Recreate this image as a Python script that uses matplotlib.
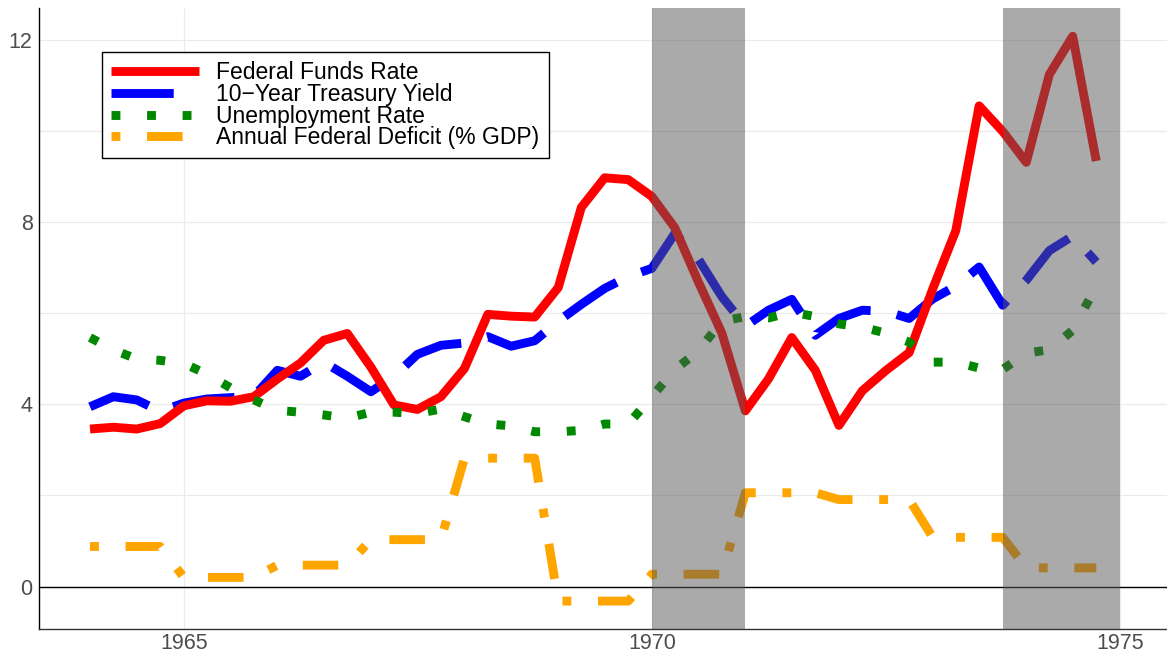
import matplotlib.pyplot as plt
import numpy as np
import pandas as pd

plt.rcParams['font.family'] = ['Liberation Sans', 'DejaVu Sans']
plt.rcParams['lines.solid_capstyle'] = 'butt'

# quarterly data, 1964Q1 - 1974Q4
quarters = pd.date_range('1964-01-01', periods=44, freq='QS')

fed_funds = [3.46, 3.50, 3.46, 3.58,
             3.97, 4.08, 4.07, 4.17,
             4.56, 4.91, 5.41, 5.56,
             4.82, 3.99, 3.89, 4.17,
             4.79, 5.98, 5.94, 5.92,
             6.57, 8.33, 8.98, 8.94,
             8.57, 7.88, 6.70, 5.57,
             3.86, 4.56, 5.47, 4.75,
             3.54, 4.30, 4.74, 5.14,
             6.54, 7.82, 10.56, 10.00,
             9.32, 11.25, 12.09, 9.35]

treasury_10y = [3.95, 4.17, 4.10, 3.85,
                4.03, 4.12, 4.15, 4.18,
                4.75, 4.62, 4.93, 4.62,
                4.28, 4.62, 5.10, 5.30,
                5.35, 5.49, 5.28, 5.40,
                5.83, 6.20, 6.55, 6.81,
                6.99, 7.76, 7.20, 6.37,
                5.72, 6.07, 6.31, 5.52,
                5.89, 6.07, 6.05, 5.89,
                6.32, 6.60, 7.02, 6.18,
                6.73, 7.38, 7.70, 7.13]

unemployment = [5.47, 5.20, 5.00, 4.97,
                4.90, 4.67, 4.37, 4.10,
                3.87, 3.83, 3.77, 3.70,
                3.83, 3.83, 3.80, 3.90,
                3.73, 3.57, 3.53, 3.40,
                3.40, 3.43, 3.57, 3.57,
                4.17, 4.77, 5.17, 5.83,
                5.93, 5.90, 6.03, 5.93,
                5.77, 5.70, 5.57, 5.37,
                4.93, 4.93, 4.80, 4.77,
                5.13, 5.20, 5.63, 6.60]

# annual deficit (% of GDP), 1964 - 1974, held for each quarter of the year
deficit_annual = [0.88, 0.20, 0.47, 1.03, 2.82, -0.32, 0.27, 2.06, 1.91, 1.08, 0.41]
deficit = np.repeat(deficit_annual, 4)

recessions = [('1970-01-01', '1971-01-01'), ('1973-10-01', '1975-01-01')]

fig = plt.figure(figsize=(11.67, 6.58), dpi=100)
ax = fig.add_axes([0.0332, 0.0436, 0.9668, 0.9442])

lw = 6.4
l_blue, = ax.plot(quarters, treasury_10y, color='#0000FF', lw=lw,
                  linestyle=(0, (7, 3)), label='10\u2212Year Treasury Yield', zorder=3)
l_red, = ax.plot(quarters, fed_funds, color='#FF0000', lw=lw,
                 label='Federal Funds Rate', zorder=4)
l_green, = ax.plot(quarters, unemployment, color='#008800', lw=lw,
                   linestyle=(0, (1, 3)), label='Unemployment Rate', zorder=5)
l_orange, = ax.plot(quarters, deficit, color='#FFA500', lw=lw,
                    linestyle=(0, (1, 3, 4, 3)), label='Annual Federal Deficit (% GDP)', zorder=5)

# recession shading on top of the lines
for start, end in recessions:
    ax.axvspan(pd.Timestamp(start), pd.Timestamp(end), color='#585858', alpha=0.51, lw=0, zorder=6)

ax.axhline(0, color='black', lw=1.0, zorder=2)

ax.set_xlim(pd.Timestamp('1963-06-15'), pd.Timestamp('1975-07-04'))
ax.set_ylim(-0.94, 12.71)

ax.set_xticks(pd.to_datetime(['1965-01-01', '1970-01-01', '1975-01-01']))
ax.set_xticklabels(['1965', '1970', '1975'])
ax.set_yticks([0, 4, 8, 12])
ax.set_yticks([2, 6, 10], minor=True)

ax.grid(True, which='major', color='#EBEBEB', lw=0.9, zorder=0)
ax.yaxis.grid(True, which='minor', color='#EBEBEB', lw=0.9, zorder=0)
ax.set_axisbelow(True)

ax.tick_params(which='both', length=0, labelsize=15.5, colors='#4D4D4D')
ax.tick_params(axis='x', pad=2.3)
ax.tick_params(axis='y', pad=4.4)

for side in ['top', 'right']:
    ax.spines[side].set_visible(False)
ax.spines['left'].set_color('black')
ax.spines['bottom'].set_color('#333333')
ax.spines['left'].set_linewidth(1.0)
ax.spines['bottom'].set_linewidth(1.0)

leg = ax.legend(handles=[l_red, l_blue, l_green, l_orange],
                loc='upper left', bbox_to_anchor=(0.0557, 0.929), borderaxespad=0,
                fontsize=16.5, handlelength=3.83, handletextpad=0.78,
                borderpad=0.4, labelspacing=-0.06,
                fancybox=False, edgecolor='black', framealpha=1)
leg.get_frame().set_linewidth(1.0)
leg.set_zorder(10)

fig.savefig('out.png', dpi=100)
